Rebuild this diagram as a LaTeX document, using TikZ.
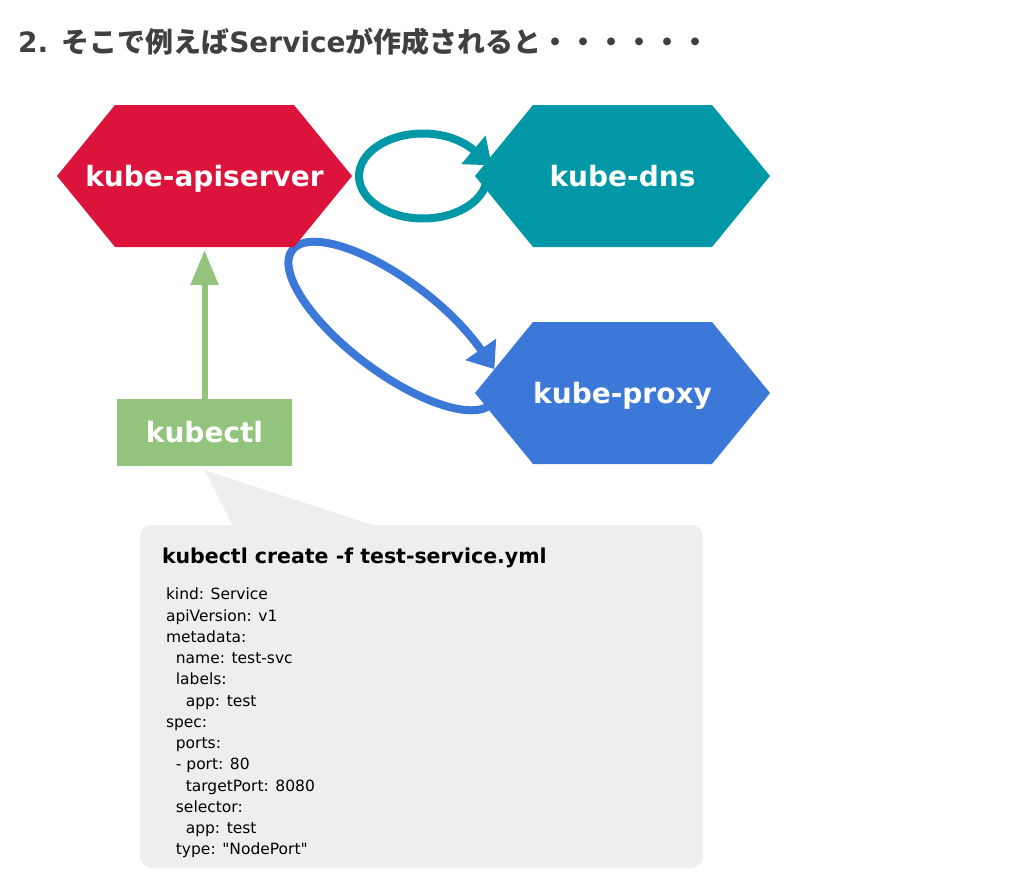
\documentclass[tikz,border=0pt]{standalone}
\usepackage{fontspec}
\setmainfont{DejaVu Sans}[Ligatures=TeXOff]
\newfontfamily\jpfont{Noto Sans CJK JP}
\usetikzlibrary{calc,arrows.meta}
\pgfdeclarelayer{back}
\pgfsetlayers{back,main}

\definecolor{apired}{RGB}{220,20,60}
\definecolor{dnsteal}{RGB}{0,151,167}
\definecolor{proxyblue}{RGB}{60,120,216}
\definecolor{ctlgreen}{RGB}{147,196,125}
\definecolor{notegray}{RGB}{238,238,238}
\definecolor{titlegray}{RGB}{64,64,64}

\tikzset{
	hexnode/.style={minimum width=295, minimum height=142, inner sep=0, text=white,
		text height=21pt, text depth=1pt,
		font=\fontsize{28}{34}\selectfont\bfseries,
		path picture={\fill[#1] (path picture bounding box.west) -- ++(58,-71) -- ++(179,0)
			-- (path picture bounding box.east) -- ++(-58,71) -- ++(-179,0) -- cycle;}},
	ctlbox/.style={minimum width=175, minimum height=67, inner sep=0, fill=ctlgreen,
		text=white, font=\fontsize{28}{34}\selectfont\bfseries},
	notebox/.style={minimum width=563, minimum height=343, inner sep=0, fill=notegray,
		rounded corners=12},
	yamltext/.style={anchor=base west, inner sep=0, font=\fontsize{15.5}{21}\selectfont},
	watchloop/.style={line width=8, draw=#1, -{Triangle[length=24pt, width=36pt]}, shorten >=-24pt},
	ctlarrow/.style={line width=6, draw=ctlgreen, -{Triangle[length=35pt, width=27pt]}, shorten >=3pt}
}

\begin{document}
\begin{tikzpicture}[x=1pt, y=-1pt]
	%%%%% START %%%%%
	
	\useasboundingbox (0,0) rectangle (1024,878);
	
	\node[anchor=base west, inner sep=0, text=titlegray, font=\fontsize{28}{34}\selectfont\bfseries] (title) at (18,52)
		{2. {\jpfont そこで例えば}Service{\jpfont が作成されると・・・・・・}};
	
	\node[hexnode=apired] (api) at (204.5,176) {kube-apiserver};
	\node[hexnode=dnsteal] (dns) at (622.5,176) {kube-dns};
	\node[hexnode=proxyblue] (proxy) at (622.5,393) {kube-proxy};
	\node[ctlbox] (kubectl) at (204.5,432.5) {kubectl};
	
	\draw[ctlarrow] (kubectl) -- (api);
	
	\coordinate (dnsloop) at ($(api.east)!0.5!(dns.west)+(9.5,0)$);
	\coordinate (proxyloop) at ($(proxy.west)+(-82,-67)$);
	
	\begin{pgfonlayer}{back}
		\fill[white] (0,0) rectangle (1024,878);
		\draw[watchloop=dnsteal, shift={(dnsloop)}] (10:64 and 42.5)
			arc[start angle=10, end angle=322, x radius=64, y radius=42.5];
		\draw[watchloop=proxyblue, shift={(proxyloop)}, rotate=-37] (0:126 and 46)
			arc[start angle=0, end angle=312, x radius=126, y radius=46];
	\end{pgfonlayer}
	
	% the spec that kubectl sends
	\node[notebox] (spec) at (421.5,696.5) {};
	\fill[notegray] ($(kubectl.south)+(0,4)$) -- ($(spec.north west)+(93,1)$) -- ($(spec.north west)+(235,1)$) -- cycle;
	
	\node[anchor=base west, inner sep=0, font=\fontsize{20.5}{24}\selectfont\bfseries] (cmd)
		at ($(spec.north west)+(22,39)$) {kubectl create -f test-service.yml};
	
	\foreach \lvl/\txt [count=\n] in {0/kind: Service, 0/apiVersion: v1, 0/metadata:,
		1/name: test-svc, 1/labels:, 2/app: test, 0/spec:, 1/ports:, 1/- port: 80,
		2/targetPort: 8080, 1/selector:, 2/app: test, 1/type: "NodePort"}
		\node[yamltext] (yaml\n) at ($(spec.north west)+({26+9.9*\lvl},{75+21.25*(\n-1)})$) {\txt};
	
	%%%%% END %%%%%
\end{tikzpicture}
\end{document}
